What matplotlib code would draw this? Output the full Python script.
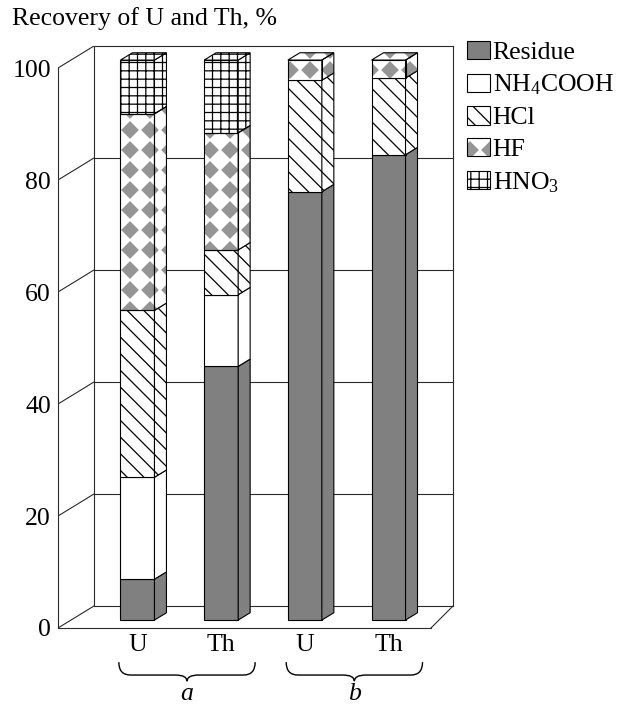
import numpy as np
import matplotlib
matplotlib.use("Agg")
import matplotlib.pyplot as plt
from matplotlib.patches import Polygon, Patch, PathPatch
from matplotlib.path import Path
import matplotlib.hatch as mhatch

# ---------------- data ----------------
categories = ["U", "Th", "U", "Th"]
groups = ["a", "b"]
group_members = [[0, 1], [2, 3]]
series_names = ["Residue", "NH$_4$COOH", "HCl", "HF", "HNO$_3$"]
residue = [7.3, 45.3, 76.5, 83.1]
nh4cooh = [18.2, 12.8, 0.0, 0.0]
hcl = [29.8, 8.0, 19.9, 13.7]
hf = [35.1, 20.9, 3.6, 3.2]
hno3 = [9.6, 13.0, 0.0, 0.0]
yticks = [0, 20, 40, 60, 80, 100]
ylabel_text = "Recovery of U and Th, %"

# ---------------- custom diamond hatch ('*') ----------------
class DiamondHatch(mhatch.HatchPatternBase):
    size = 0.8

    def __init__(self, hatch, density):
        self.n = hatch.count("*") * 5
        self.num_vertices = self.n * self.n * 5

    def set_vertices_and_codes(self, vertices, codes):
        n = self.n
        h = self.size / n / 2
        base = np.array([[0, -h], [h, 0], [0, h], [-h, 0], [0, -h]])
        parts = [base + [(i + 0.5) / n, (j + 0.5) / n]
                 for i in range(n) for j in range(n)]
        vertices[:] = np.concatenate(parts)
        codes[:] = np.tile([Path.MOVETO, Path.LINETO, Path.LINETO,
                            Path.LINETO, Path.CLOSEPOLY], n * n)


mhatch._hatch_types = [t for t in mhatch._hatch_types
                       if t is not mhatch.Stars] + [DiamondHatch]

# ---------------- style ----------------
plt.rcParams["font.family"] = "Liberation Serif"
plt.rcParams["mathtext.fontset"] = "custom"
plt.rcParams["mathtext.rm"] = "Liberation Serif"
plt.rcParams["mathtext.it"] = "Liberation Serif:italic"
plt.rcParams["hatch.linewidth"] = 0.9
FS = 18.5

GRAY = "#808080"
HFGRAY = "#959595"
LINE = "#2a2a2a"
styles = [
    dict(fc=GRAY, hatch=None, hc="black"),
    dict(fc="white", hatch=None, hc="black"),
    dict(fc="white", hatch="\\\\", hc="black"),
    dict(fc="white", hatch="*", hc=HFGRAY),
    dict(fc="white", hatch="++", hc="black"),
]

# geometry (oblique pseudo-3D)
DX, DY = 0.43, 3.93          # full depth offset of walls
Z0, ZD = 0.36, 0.333         # bar front depth and bar depth (fractions)
BAR_W = 0.406
BDX, BDY = ZD * DX, ZD * DY
XL, XR = -0.795, 3.925       # front axis and right wall
XFR = 3.662                  # floor front right corner
YMAX = 100

fig = plt.figure(figsize=(6.35, 7.04), dpi=100)
ax = fig.add_axes([58 / 635, 76 / 704, 395 / 635, 582 / 704])
ax.set_xlim(XL, XR)
ax.set_ylim(0, YMAX + DY)

lw = 0.8
# walls
ax.plot([XL + DX, XL + DX], [DY, YMAX + DY], color=LINE, lw=lw, zorder=1)
ax.plot([XR, XR], [DY, YMAX + DY], color=LINE, lw=lw, zorder=1, clip_on=False)
for v in yticks:
    ax.plot([XL, XL + DX], [v, v + DY], color=LINE, lw=lw, zorder=1)
    ax.plot([XL + DX, XR], [v + DY, v + DY], color=LINE, lw=lw, zorder=1,
            clip_on=False)
ax.plot([XFR, XR], [0, DY], color=LINE, lw=lw, zorder=1, clip_on=False)

ax.spines["top"].set_visible(False)
ax.spines["right"].set_visible(False)
ax.spines["left"].set_bounds(0, YMAX)
ax.spines["bottom"].set_bounds(XL, XFR)
for s in ("left", "bottom"):
    ax.spines[s].set_color(LINE)
    ax.spines[s].set_linewidth(lw)

pos = np.arange(len(categories))
ax.set_yticks(yticks)
ax.set_xticks(pos + Z0 * DX, categories)
ax.tick_params(axis="both", length=0, labelsize=FS)
ax.tick_params(axis="y", pad=5)
ax.tick_params(axis="x", pad=4)


def face(poly, st, z):
    if st["hatch"] == "*":
        ax.add_patch(Polygon(poly, closed=True, fc=st["fc"], ec=st["hc"],
                             lw=0, hatch=st["hatch"], zorder=z))
        ax.add_patch(Polygon(poly, closed=True, fill=False, ec="black",
                             lw=lw, zorder=z + 0.01))
    else:
        ax.add_patch(Polygon(poly, closed=True, fc=st["fc"], ec="black",
                             lw=lw, hatch=st["hatch"], zorder=z))


data = np.array([residue, nh4cooh, hcl, hf, hno3])
for i in pos:
    xl = i + Z0 * DX - BAR_W / 2
    xr = xl + BAR_W
    base = Z0 * DY
    cum = 0.0
    last = None
    for k in range(data.shape[0]):
        v = data[k, i]
        if v <= 0:
            continue
        y0, y1 = base + cum, base + cum + v
        face([(xl, y0), (xr, y0), (xr, y1), (xl, y1)], styles[k], 3)
        face([(xr, y0), (xr + BDX, y0 + BDY), (xr + BDX, y1 + BDY), (xr, y1)],
             styles[k], 3)
        cum += v
        last = k
    ytop = base + cum
    face([(xl, ytop), (xr, ytop), (xr + BDX, ytop + BDY), (xl + BDX, ytop + BDY)],
         styles[last], 3)

# braces and group letters
B_TOP, B_MID, B_TIP, LET_Y = -6.1, -8.4, -9.5, -11.8
R = 0.14
for g, members in zip(groups, group_members):
    x0 = members[0] + Z0 * DX - BAR_W / 2 - 0.02
    x1 = members[-1] + Z0 * DX + BAR_W / 2 + BDX + 0.06
    xc = (x0 + x1) / 2
    verts = [(x0, B_TOP), (x0, B_MID), (x0 + R, B_MID),
             (xc - R, B_MID),
             (xc, B_MID), (xc, B_TIP),
             (xc, B_MID), (xc + R, B_MID),
             (x1 - R, B_MID),
             (x1, B_MID), (x1, B_TOP)]
    codes = [Path.MOVETO, Path.CURVE3, Path.CURVE3, Path.LINETO,
             Path.CURVE3, Path.CURVE3, Path.CURVE3, Path.CURVE3,
             Path.LINETO, Path.CURVE3, Path.CURVE3]
    ax.add_patch(PathPatch(Path(verts, codes), fill=False, ec="black",
                           lw=1.0, clip_on=False))
    ax.text(xc, LET_Y, g, ha="center", va="center", fontsize=FS,
            fontstyle="italic", clip_on=False)

fig.text(12 / 635, 1 - 19 / 704, ylabel_text, ha="left", va="center",
         fontsize=FS)

# legend
handles = []
for st in styles:
    if st["hatch"] == "*":
        handles.append((Patch(fc=st["fc"], ec=st["hc"], lw=0, hatch="*"),
                        Patch(fill=False, ec="black", lw=lw)))
    else:
        handles.append(Patch(fc=st["fc"], ec="black", lw=lw, hatch=st["hatch"]))
fig.legend(handles, series_names, loc="upper left",
           bbox_to_anchor=(467 / 635, 1 - 41 / 704), frameon=False,
           fontsize=FS, handlelength=0.88, handleheight=0.72,
           handletextpad=0.12, labelspacing=0.34, borderpad=0,
           borderaxespad=0)

fig.savefig("out.png", dpi=100)
